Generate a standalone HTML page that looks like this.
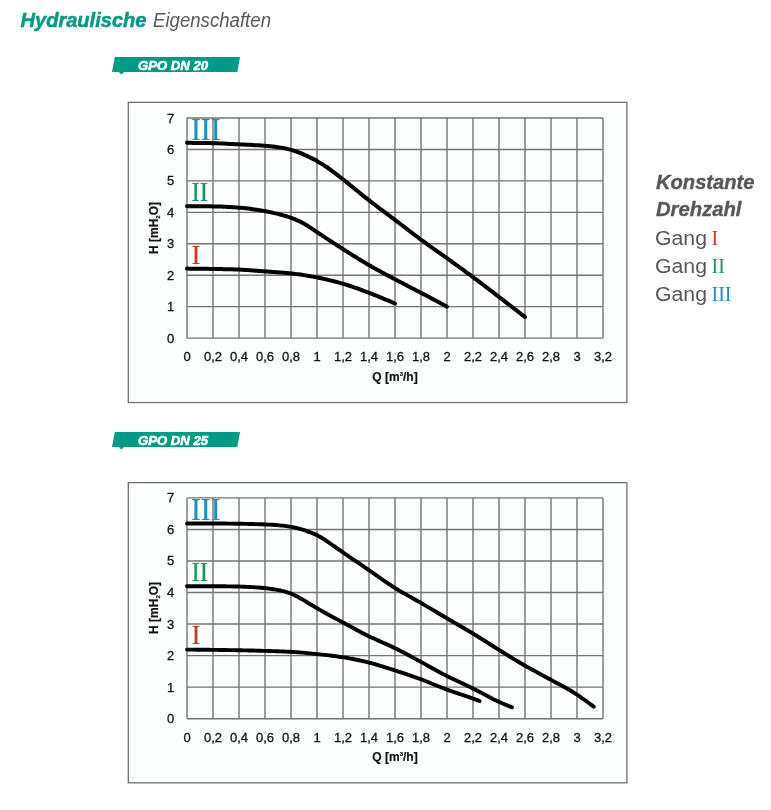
<!DOCTYPE html>
<html><head><meta charset="utf-8">
<style>
html,body{margin:0;padding:0;background:#fff;}
body{width:771px;height:810px;position:relative;overflow:hidden;font-family:"Liberation Sans",sans-serif;}
svg{position:absolute;left:0;top:0;font-family:"Liberation Sans",sans-serif;will-change:transform;}
.lbl{font-family:"Liberation Sans",sans-serif;font-size:13px;fill:#111;stroke:#111;stroke-width:0.3px;}
.ttl{font-family:"Liberation Sans",sans-serif;font-size:12px;font-weight:bold;fill:#111;stroke:#111;stroke-width:0.2px;}
.bdg{font-family:"Liberation Sans",sans-serif;font-size:13px;font-weight:bold;font-style:italic;fill:#fff;}
.h1{position:absolute;left:22px;top:6px;font-size:18px;font-style:italic;white-space:nowrap;line-height:24px;}
.h1 b{color:#009a87;}
.h1 span{color:#5a5a5a;}
.side{position:absolute;left:656px;top:170px;font-size:19px;line-height:27.8px;color:#5a5a5a;white-space:nowrap;}
.side b{font-style:italic;}
.rn{font-family:"Liberation Serif",serif;}
</style></head><body>
<svg width="771" height="810" viewBox="0 0 771 810">
<text x="20.5" y="26.6" font-size="20" font-weight="bold" font-style="italic" fill="#009a87" stroke="#009a87" stroke-width="0.5" textLength="126" lengthAdjust="spacingAndGlyphs">Hydraulische</text>
<text x="153" y="26.6" font-size="20" font-style="italic" fill="#57595c" textLength="118" lengthAdjust="spacingAndGlyphs">Eigenschaften</text>
<text x="656" y="188.5" font-size="20" font-weight="bold" font-style="italic" fill="#575757" stroke="#575757" stroke-width="0.35" textLength="98.5" lengthAdjust="spacingAndGlyphs">Konstante</text>
<text x="656" y="216.4" font-size="20" font-weight="bold" font-style="italic" fill="#575757" stroke="#575757" stroke-width="0.35" textLength="85.5" lengthAdjust="spacingAndGlyphs">Drehzahl</text>
<text x="655" y="244.6" font-size="20" fill="#575757" textLength="52" lengthAdjust="spacingAndGlyphs">Gang</text>
<text x="655" y="272.6" font-size="20" fill="#575757" textLength="52" lengthAdjust="spacingAndGlyphs">Gang</text>
<text x="655" y="300.6" font-size="20" fill="#575757" textLength="52" lengthAdjust="spacingAndGlyphs">Gang</text>
<text x="711.5" y="244.6" font-size="20" font-family="Liberation Serif" fill="#cd3a24">I</text>
<text x="711.5" y="272.6" font-size="20" font-family="Liberation Serif" fill="#16975a">II</text>
<text x="711.5" y="300.6" font-size="20" font-family="Liberation Serif" fill="#1b90c0">III</text>
<path d="M114.8 57.0 L240 57.0 L237.3 72.0 L124.2 72.0 L121.4 74.5 L118.8 72.0 L112 72.0 Z" fill="#009a87"/><text x="138" y="69.7" class="bdg" stroke="#fff" stroke-width="0.6" textLength="70" lengthAdjust="spacingAndGlyphs">GPO DN 20</text>
<path d="M114.8 432.0 L240 432.0 L237.3 447.0 L124.2 447.0 L121.4 449.5 L118.8 447.0 L112 447.0 Z" fill="#009a87"/><text x="138" y="444.7" class="bdg" stroke="#fff" stroke-width="0.6" textLength="70" lengthAdjust="spacingAndGlyphs">GPO DN 25</text>
<rect x="128.3" y="102.35" width="498.6" height="300.2" fill="#fcfdfd" stroke="#6e6e6e" stroke-width="1.3"/>
<path d="M187.00 118.00 V338.10 M213.00 118.00 V338.10 M239.00 118.00 V338.10 M265.00 118.00 V338.10 M291.00 118.00 V338.10 M317.00 118.00 V338.10 M343.00 118.00 V338.10 M369.00 118.00 V338.10 M395.00 118.00 V338.10 M421.00 118.00 V338.10 M447.00 118.00 V338.10 M473.00 118.00 V338.10 M499.00 118.00 V338.10 M525.00 118.00 V338.10 M551.00 118.00 V338.10 M577.00 118.00 V338.10 M603.00 118.00 V338.10 M187.00 118.00 H603.00 M187.00 149.44 H603.00 M187.00 180.89 H603.00 M187.00 212.33 H603.00 M187.00 243.77 H603.00 M187.00 275.21 H603.00 M187.00 306.66 H603.00 M187.00 338.10 H603.00" stroke="#747474" stroke-width="1.4" fill="none"/>
<text x="191" y="140.1" font-family="Liberation Serif" font-size="31" fill="#1b90c0" stroke="#1b90c0" stroke-width="0.2" textLength="29.5" lengthAdjust="spacingAndGlyphs">III</text>
<text x="191.5" y="201.0" font-family="Liberation Serif" font-size="27" fill="#16975a" stroke="#16975a" stroke-width="0.2" textLength="16.6" lengthAdjust="spacingAndGlyphs">II</text>
<text x="191.5" y="264.0" font-family="Liberation Serif" font-size="27" fill="#cd3a24" stroke="#cd3a24" stroke-width="0.2">I</text>
<path d="M187.00 142.84 C187.47 142.84 188.89 142.85 189.84 142.86 C190.79 142.86 191.73 142.87 192.68 142.88 C193.63 142.88 194.57 142.89 195.52 142.90 C196.47 142.91 197.41 142.92 198.36 142.93 C199.31 142.94 200.25 142.95 201.20 142.97 C202.15 142.98 203.10 142.99 204.04 143.01 C204.99 143.02 205.94 143.04 206.88 143.06 C207.83 143.07 208.78 143.09 209.72 143.11 C210.67 143.14 211.62 143.16 212.56 143.18 C213.51 143.21 214.46 143.24 215.40 143.27 C216.35 143.30 217.30 143.33 218.24 143.36 C219.19 143.40 220.14 143.44 221.08 143.48 C222.03 143.52 222.98 143.56 223.92 143.61 C224.87 143.65 225.82 143.70 226.76 143.75 C227.71 143.80 228.66 143.85 229.61 143.90 C230.55 143.95 231.50 144.00 232.45 144.05 C233.39 144.10 234.34 144.15 235.29 144.20 C236.23 144.25 237.18 144.30 238.13 144.34 C239.07 144.39 240.02 144.44 240.97 144.48 C241.91 144.53 242.86 144.57 243.81 144.61 C244.75 144.66 245.70 144.70 246.65 144.74 C247.59 144.78 248.54 144.82 249.49 144.87 C250.43 144.91 251.38 144.95 252.33 145.00 C253.27 145.04 254.22 145.09 255.17 145.14 C256.11 145.18 257.06 145.23 258.01 145.29 C258.96 145.34 259.90 145.40 260.85 145.46 C261.80 145.52 262.74 145.59 263.69 145.66 C264.64 145.73 265.58 145.80 266.53 145.88 C267.48 145.96 268.42 146.05 269.37 146.14 C270.32 146.24 271.26 146.34 272.21 146.44 C273.16 146.55 274.10 146.67 275.05 146.79 C276.00 146.91 276.94 147.04 277.89 147.18 C278.84 147.31 279.78 147.46 280.73 147.62 C281.68 147.77 282.62 147.94 283.57 148.12 C284.52 148.30 285.46 148.48 286.41 148.69 C287.36 148.90 288.31 149.11 289.25 149.35 C290.20 149.59 291.15 149.85 292.09 150.13 C293.04 150.40 293.99 150.70 294.93 151.02 C295.88 151.34 296.83 151.67 297.77 152.03 C298.72 152.38 299.67 152.76 300.61 153.14 C301.56 153.53 302.51 153.93 303.45 154.34 C304.40 154.75 305.35 155.17 306.29 155.61 C307.24 156.04 308.19 156.49 309.13 156.94 C310.08 157.40 311.03 157.87 311.97 158.35 C312.92 158.84 313.87 159.33 314.82 159.84 C315.76 160.36 316.71 160.88 317.66 161.43 C318.60 161.98 319.55 162.54 320.50 163.12 C321.44 163.69 322.39 164.29 323.34 164.90 C324.28 165.51 325.23 166.14 326.18 166.78 C327.12 167.42 328.07 168.08 329.02 168.75 C329.96 169.42 330.91 170.10 331.86 170.79 C332.80 171.49 333.75 172.19 334.70 172.91 C335.64 173.62 336.59 174.35 337.54 175.08 C338.48 175.81 339.43 176.55 340.38 177.29 C341.32 178.03 342.27 178.78 343.22 179.54 C344.17 180.29 345.11 181.05 346.06 181.81 C347.01 182.57 347.95 183.33 348.90 184.10 C349.85 184.87 350.79 185.63 351.74 186.40 C352.69 187.17 353.63 187.95 354.58 188.72 C355.53 189.49 356.47 190.26 357.42 191.03 C358.37 191.80 359.31 192.57 360.26 193.33 C361.21 194.10 362.15 194.86 363.10 195.62 C364.05 196.38 364.99 197.13 365.94 197.88 C366.89 198.63 367.83 199.38 368.78 200.12 C369.73 200.86 370.68 201.59 371.62 202.32 C372.57 203.06 373.52 203.78 374.46 204.50 C375.41 205.23 376.36 205.94 377.30 206.66 C378.25 207.37 379.20 208.08 380.14 208.79 C381.09 209.50 382.04 210.21 382.98 210.92 C383.93 211.63 384.88 212.33 385.82 213.04 C386.77 213.74 387.72 214.45 388.66 215.16 C389.61 215.87 390.56 216.57 391.50 217.29 C392.45 218.00 393.40 218.71 394.34 219.42 C395.29 220.14 396.24 220.85 397.18 221.57 C398.13 222.29 399.08 223.01 400.03 223.73 C400.97 224.45 401.92 225.18 402.87 225.90 C403.81 226.62 404.76 227.35 405.71 228.07 C406.65 228.80 407.60 229.52 408.55 230.24 C409.49 230.97 410.44 231.69 411.39 232.41 C412.33 233.13 413.28 233.84 414.23 234.56 C415.17 235.27 416.12 235.99 417.07 236.69 C418.01 237.40 418.96 238.11 419.91 238.81 C420.85 239.51 421.80 240.21 422.75 240.90 C423.69 241.59 424.64 242.28 425.59 242.97 C426.54 243.66 427.48 244.34 428.43 245.02 C429.38 245.70 430.32 246.38 431.27 247.06 C432.22 247.73 433.16 248.41 434.11 249.08 C435.06 249.75 436.00 250.43 436.95 251.10 C437.90 251.77 438.84 252.44 439.79 253.12 C440.74 253.79 441.68 254.46 442.63 255.14 C443.58 255.81 444.52 256.48 445.47 257.16 C446.42 257.84 447.36 258.51 448.31 259.19 C449.26 259.87 450.20 260.55 451.15 261.23 C452.10 261.91 453.04 262.59 453.99 263.27 C454.94 263.95 455.89 264.64 456.83 265.32 C457.78 266.00 458.73 266.69 459.67 267.37 C460.62 268.06 461.57 268.75 462.51 269.43 C463.46 270.12 464.41 270.81 465.35 271.51 C466.30 272.20 467.25 272.89 468.19 273.59 C469.14 274.28 470.09 274.98 471.03 275.68 C471.98 276.38 472.93 277.09 473.87 277.79 C474.82 278.50 475.77 279.21 476.71 279.92 C477.66 280.63 478.61 281.34 479.55 282.05 C480.50 282.77 481.45 283.48 482.39 284.20 C483.34 284.92 484.29 285.64 485.24 286.36 C486.18 287.08 487.13 287.81 488.08 288.53 C489.02 289.25 489.97 289.98 490.92 290.70 C491.86 291.43 492.81 292.16 493.76 292.88 C494.70 293.61 495.65 294.34 496.60 295.07 C497.54 295.79 498.49 296.52 499.44 297.25 C500.38 297.98 501.33 298.71 502.28 299.44 C503.22 300.17 504.17 300.89 505.12 301.62 C506.06 302.36 507.01 303.09 507.96 303.82 C508.90 304.55 509.85 305.28 510.80 306.01 C511.75 306.74 512.69 307.48 513.64 308.21 C514.59 308.94 515.53 309.68 516.48 310.41 C517.43 311.15 518.37 311.88 519.32 312.62 C520.27 313.35 521.21 314.09 522.16 314.82 C523.11 315.56 524.53 316.67 525.00 317.03" stroke="#000" stroke-width="4.0" fill="none" stroke-linecap="round" stroke-linejoin="round"/>
<path d="M187.00 206.35 C187.36 206.35 188.46 206.35 189.18 206.35 C189.91 206.35 190.64 206.35 191.37 206.35 C192.10 206.35 192.83 206.35 193.55 206.35 C194.28 206.35 195.01 206.35 195.74 206.35 C196.47 206.35 197.20 206.35 197.92 206.35 C198.65 206.35 199.38 206.35 200.11 206.35 C200.84 206.35 201.57 206.35 202.29 206.35 C203.02 206.35 203.75 206.36 204.48 206.36 C205.21 206.36 205.94 206.36 206.66 206.36 C207.39 206.36 208.12 206.36 208.85 206.36 C209.58 206.36 210.31 206.37 211.03 206.37 C211.76 206.38 212.49 206.38 213.22 206.39 C213.95 206.40 214.68 206.41 215.40 206.42 C216.13 206.43 216.86 206.45 217.59 206.47 C218.32 206.48 219.04 206.50 219.77 206.53 C220.50 206.55 221.23 206.58 221.96 206.60 C222.69 206.63 223.41 206.66 224.14 206.70 C224.87 206.73 225.60 206.77 226.33 206.81 C227.06 206.84 227.78 206.89 228.51 206.93 C229.24 206.97 229.97 207.01 230.70 207.06 C231.43 207.11 232.15 207.15 232.88 207.20 C233.61 207.25 234.34 207.30 235.07 207.35 C235.80 207.41 236.52 207.46 237.25 207.52 C237.98 207.57 238.71 207.63 239.44 207.69 C240.17 207.75 240.89 207.82 241.62 207.88 C242.35 207.95 243.08 208.02 243.81 208.09 C244.54 208.17 245.26 208.25 245.99 208.33 C246.72 208.41 247.45 208.49 248.18 208.58 C248.90 208.67 249.63 208.76 250.36 208.85 C251.09 208.95 251.82 209.05 252.55 209.15 C253.27 209.25 254.00 209.35 254.73 209.46 C255.46 209.56 256.19 209.67 256.92 209.79 C257.64 209.90 258.37 210.01 259.10 210.13 C259.83 210.25 260.56 210.36 261.29 210.49 C262.01 210.61 262.74 210.73 263.47 210.86 C264.20 210.99 264.93 211.12 265.66 211.26 C266.38 211.39 267.11 211.53 267.84 211.68 C268.57 211.82 269.30 211.97 270.03 212.12 C270.75 212.27 271.48 212.43 272.21 212.59 C272.94 212.75 273.67 212.92 274.39 213.09 C275.12 213.26 275.85 213.43 276.58 213.61 C277.31 213.79 278.04 213.97 278.76 214.16 C279.49 214.34 280.22 214.54 280.95 214.73 C281.68 214.93 282.41 215.13 283.13 215.33 C283.86 215.54 284.59 215.75 285.32 215.97 C286.05 216.19 286.78 216.42 287.50 216.65 C288.23 216.88 288.96 217.12 289.69 217.37 C290.42 217.62 291.15 217.88 291.87 218.14 C292.60 218.41 293.33 218.69 294.06 218.97 C294.79 219.26 295.52 219.55 296.24 219.86 C296.97 220.17 297.70 220.49 298.43 220.82 C299.16 221.16 299.89 221.50 300.61 221.86 C301.34 222.22 302.07 222.60 302.80 222.99 C303.53 223.38 304.25 223.79 304.98 224.21 C305.71 224.63 306.44 225.06 307.17 225.51 C307.90 225.96 308.62 226.43 309.35 226.90 C310.08 227.37 310.81 227.86 311.54 228.34 C312.27 228.83 312.99 229.33 313.72 229.82 C314.45 230.32 315.18 230.82 315.91 231.32 C316.64 231.81 317.36 232.31 318.09 232.80 C318.82 233.30 319.55 233.79 320.28 234.28 C321.01 234.77 321.73 235.26 322.46 235.74 C323.19 236.23 323.92 236.71 324.65 237.19 C325.38 237.68 326.10 238.16 326.83 238.64 C327.56 239.12 328.29 239.59 329.02 240.07 C329.75 240.55 330.47 241.02 331.20 241.50 C331.93 241.97 332.66 242.45 333.39 242.92 C334.11 243.39 334.84 243.87 335.57 244.34 C336.30 244.81 337.03 245.28 337.76 245.75 C338.48 246.21 339.21 246.68 339.94 247.15 C340.67 247.62 341.40 248.08 342.13 248.55 C342.85 249.01 343.58 249.47 344.31 249.94 C345.04 250.40 345.77 250.86 346.50 251.32 C347.22 251.79 347.95 252.25 348.68 252.71 C349.41 253.17 350.14 253.62 350.87 254.08 C351.59 254.54 352.32 255.00 353.05 255.45 C353.78 255.91 354.51 256.36 355.24 256.81 C355.96 257.27 356.69 257.72 357.42 258.17 C358.15 258.61 358.88 259.06 359.61 259.51 C360.33 259.95 361.06 260.39 361.79 260.83 C362.52 261.27 363.25 261.71 363.97 262.15 C364.70 262.58 365.43 263.01 366.16 263.44 C366.89 263.87 367.62 264.30 368.34 264.72 C369.07 265.14 369.80 265.56 370.53 265.98 C371.26 266.40 371.99 266.81 372.71 267.23 C373.44 267.64 374.17 268.05 374.90 268.45 C375.63 268.86 376.36 269.26 377.08 269.67 C377.81 270.07 378.54 270.47 379.27 270.87 C380.00 271.27 380.73 271.66 381.45 272.06 C382.18 272.45 382.91 272.85 383.64 273.24 C384.37 273.63 385.10 274.02 385.82 274.41 C386.55 274.80 387.28 275.19 388.01 275.58 C388.74 275.97 389.46 276.36 390.19 276.74 C390.92 277.13 391.65 277.52 392.38 277.90 C393.11 278.29 393.83 278.68 394.56 279.06 C395.29 279.44 396.02 279.83 396.75 280.21 C397.48 280.60 398.20 280.98 398.93 281.36 C399.66 281.74 400.39 282.12 401.12 282.50 C401.85 282.88 402.57 283.26 403.30 283.64 C404.03 284.02 404.76 284.40 405.49 284.78 C406.22 285.15 406.94 285.53 407.67 285.91 C408.40 286.29 409.13 286.66 409.86 287.04 C410.59 287.42 411.31 287.79 412.04 288.17 C412.77 288.55 413.50 288.92 414.23 289.30 C414.96 289.68 415.68 290.06 416.41 290.44 C417.14 290.82 417.87 291.20 418.60 291.58 C419.32 291.96 420.05 292.34 420.78 292.72 C421.51 293.10 422.24 293.48 422.97 293.87 C423.69 294.25 424.42 294.63 425.15 295.02 C425.88 295.40 426.61 295.79 427.34 296.17 C428.06 296.56 428.79 296.94 429.52 297.33 C430.25 297.71 430.98 298.10 431.71 298.49 C432.43 298.87 433.16 299.26 433.89 299.65 C434.62 300.04 435.35 300.42 436.08 300.81 C436.80 301.20 437.53 301.59 438.26 301.98 C438.99 302.37 439.72 302.76 440.45 303.15 C441.17 303.53 441.90 303.92 442.63 304.31 C443.36 304.70 444.09 305.10 444.82 305.49 C445.54 305.88 446.64 306.46 447.00 306.66" stroke="#000" stroke-width="4.0" fill="none" stroke-linecap="round" stroke-linejoin="round"/>
<path d="M187.00 268.61 C187.29 268.61 188.17 268.62 188.75 268.63 C189.33 268.63 189.91 268.64 190.50 268.64 C191.08 268.65 191.66 268.65 192.24 268.66 C192.83 268.66 193.41 268.67 193.99 268.67 C194.57 268.68 195.16 268.69 195.74 268.69 C196.32 268.70 196.90 268.70 197.49 268.71 C198.07 268.72 198.65 268.72 199.24 268.73 C199.82 268.74 200.40 268.75 200.98 268.75 C201.57 268.76 202.15 268.77 202.73 268.78 C203.31 268.78 203.90 268.79 204.48 268.80 C205.06 268.81 205.64 268.82 206.23 268.82 C206.81 268.83 207.39 268.84 207.97 268.85 C208.56 268.86 209.14 268.87 209.72 268.88 C210.31 268.89 210.89 268.90 211.47 268.90 C212.05 268.91 212.64 268.92 213.22 268.93 C213.80 268.94 214.38 268.95 214.97 268.96 C215.55 268.97 216.13 268.98 216.71 268.99 C217.30 269.00 217.88 269.02 218.46 269.03 C219.04 269.04 219.63 269.05 220.21 269.06 C220.79 269.07 221.38 269.08 221.96 269.10 C222.54 269.11 223.12 269.12 223.71 269.13 C224.29 269.15 224.87 269.16 225.45 269.17 C226.04 269.19 226.62 269.20 227.20 269.21 C227.78 269.23 228.37 269.24 228.95 269.26 C229.53 269.27 230.11 269.29 230.70 269.31 C231.28 269.32 231.86 269.34 232.45 269.36 C233.03 269.37 233.61 269.39 234.19 269.41 C234.78 269.43 235.36 269.45 235.94 269.47 C236.52 269.49 237.11 269.52 237.69 269.54 C238.27 269.56 238.85 269.59 239.44 269.61 C240.02 269.64 240.60 269.67 241.18 269.69 C241.77 269.72 242.35 269.75 242.93 269.79 C243.52 269.82 244.10 269.85 244.68 269.89 C245.26 269.92 245.85 269.96 246.43 270.00 C247.01 270.03 247.59 270.07 248.18 270.12 C248.76 270.16 249.34 270.20 249.92 270.24 C250.51 270.28 251.09 270.33 251.67 270.37 C252.25 270.42 252.84 270.46 253.42 270.51 C254.00 270.56 254.59 270.60 255.17 270.65 C255.75 270.70 256.33 270.74 256.92 270.79 C257.50 270.84 258.08 270.88 258.66 270.93 C259.25 270.98 259.83 271.02 260.41 271.07 C260.99 271.11 261.58 271.16 262.16 271.21 C262.74 271.25 263.32 271.29 263.91 271.34 C264.49 271.38 265.07 271.42 265.66 271.47 C266.24 271.51 266.82 271.55 267.40 271.59 C267.99 271.63 268.57 271.67 269.15 271.71 C269.73 271.75 270.32 271.79 270.90 271.83 C271.48 271.87 272.06 271.91 272.65 271.95 C273.23 271.99 273.81 272.03 274.39 272.07 C274.98 272.11 275.56 272.15 276.14 272.18 C276.73 272.22 277.31 272.26 277.89 272.30 C278.47 272.34 279.06 272.38 279.64 272.43 C280.22 272.47 280.80 272.51 281.39 272.55 C281.97 272.60 282.55 272.64 283.13 272.69 C283.72 272.73 284.30 272.78 284.88 272.82 C285.46 272.87 286.05 272.92 286.63 272.97 C287.21 273.02 287.80 273.08 288.38 273.13 C288.96 273.19 289.54 273.24 290.13 273.30 C290.71 273.36 291.29 273.42 291.87 273.48 C292.46 273.54 293.04 273.61 293.62 273.68 C294.20 273.74 294.79 273.81 295.37 273.89 C295.95 273.96 296.54 274.03 297.12 274.11 C297.70 274.19 298.28 274.27 298.87 274.35 C299.45 274.43 300.03 274.51 300.61 274.60 C301.20 274.69 301.78 274.77 302.36 274.86 C302.94 274.95 303.53 275.05 304.11 275.14 C304.69 275.23 305.27 275.33 305.86 275.43 C306.44 275.52 307.02 275.62 307.61 275.72 C308.19 275.82 308.77 275.92 309.35 276.03 C309.94 276.13 310.52 276.23 311.10 276.34 C311.68 276.44 312.27 276.55 312.85 276.66 C313.43 276.77 314.01 276.88 314.60 276.99 C315.18 277.10 315.76 277.21 316.34 277.32 C316.93 277.44 317.51 277.55 318.09 277.67 C318.68 277.79 319.26 277.90 319.84 278.02 C320.42 278.14 321.01 278.26 321.59 278.39 C322.17 278.51 322.75 278.64 323.34 278.76 C323.92 278.89 324.50 279.02 325.08 279.15 C325.67 279.28 326.25 279.41 326.83 279.55 C327.41 279.68 328.00 279.82 328.58 279.96 C329.16 280.09 329.75 280.24 330.33 280.38 C330.91 280.52 331.49 280.66 332.08 280.81 C332.66 280.96 333.24 281.10 333.82 281.25 C334.41 281.40 334.99 281.55 335.57 281.71 C336.15 281.86 336.74 282.02 337.32 282.17 C337.90 282.33 338.48 282.49 339.07 282.65 C339.65 282.81 340.23 282.97 340.82 283.14 C341.40 283.30 341.98 283.47 342.56 283.64 C343.15 283.81 343.73 283.98 344.31 284.16 C344.89 284.33 345.48 284.51 346.06 284.69 C346.64 284.87 347.22 285.05 347.81 285.24 C348.39 285.43 348.97 285.61 349.55 285.80 C350.14 286.00 350.72 286.19 351.30 286.38 C351.89 286.58 352.47 286.78 353.05 286.98 C353.63 287.18 354.22 287.38 354.80 287.59 C355.38 287.79 355.96 288.00 356.55 288.21 C357.13 288.41 357.71 288.62 358.29 288.83 C358.88 289.05 359.46 289.26 360.04 289.47 C360.62 289.69 361.21 289.90 361.79 290.12 C362.37 290.34 362.96 290.55 363.54 290.77 C364.12 290.99 364.70 291.21 365.29 291.43 C365.87 291.65 366.45 291.87 367.03 292.09 C367.62 292.31 368.20 292.53 368.78 292.76 C369.36 292.98 369.95 293.20 370.53 293.43 C371.11 293.65 371.69 293.88 372.28 294.11 C372.86 294.33 373.44 294.56 374.03 294.79 C374.61 295.02 375.19 295.25 375.77 295.48 C376.36 295.71 376.94 295.94 377.52 296.18 C378.10 296.41 378.69 296.64 379.27 296.88 C379.85 297.12 380.43 297.35 381.02 297.59 C381.60 297.83 382.18 298.07 382.76 298.31 C383.35 298.55 383.93 298.79 384.51 299.04 C385.10 299.28 385.68 299.52 386.26 299.77 C386.84 300.01 387.43 300.26 388.01 300.51 C388.59 300.76 389.17 301.00 389.76 301.25 C390.34 301.50 390.92 301.75 391.50 302.00 C392.09 302.25 392.67 302.50 393.25 302.76 C393.83 303.01 394.71 303.39 395.00 303.51" stroke="#000" stroke-width="4.0" fill="none" stroke-linecap="round" stroke-linejoin="round"/>
<text x="174.2" y="342.60" text-anchor="end" class="lbl">0</text>
<text x="174.2" y="311.16" text-anchor="end" class="lbl">1</text>
<text x="174.2" y="279.71" text-anchor="end" class="lbl">2</text>
<text x="174.2" y="248.27" text-anchor="end" class="lbl">3</text>
<text x="174.2" y="216.83" text-anchor="end" class="lbl">4</text>
<text x="174.2" y="185.39" text-anchor="end" class="lbl">5</text>
<text x="174.2" y="153.94" text-anchor="end" class="lbl">6</text>
<text x="174.2" y="122.50" text-anchor="end" class="lbl">7</text>
<text x="187.00" y="361.4" text-anchor="middle" class="lbl">0</text>
<text x="213.00" y="361.4" text-anchor="middle" class="lbl">0,2</text>
<text x="239.00" y="361.4" text-anchor="middle" class="lbl">0,4</text>
<text x="265.00" y="361.4" text-anchor="middle" class="lbl">0,6</text>
<text x="291.00" y="361.4" text-anchor="middle" class="lbl">0,8</text>
<text x="317.00" y="361.4" text-anchor="middle" class="lbl">1</text>
<text x="343.00" y="361.4" text-anchor="middle" class="lbl">1,2</text>
<text x="369.00" y="361.4" text-anchor="middle" class="lbl">1,4</text>
<text x="395.00" y="361.4" text-anchor="middle" class="lbl">1,6</text>
<text x="421.00" y="361.4" text-anchor="middle" class="lbl">1,8</text>
<text x="447.00" y="361.4" text-anchor="middle" class="lbl">2</text>
<text x="473.00" y="361.4" text-anchor="middle" class="lbl">2,2</text>
<text x="499.00" y="361.4" text-anchor="middle" class="lbl">2,4</text>
<text x="525.00" y="361.4" text-anchor="middle" class="lbl">2,6</text>
<text x="551.00" y="361.4" text-anchor="middle" class="lbl">2,8</text>
<text x="577.00" y="361.4" text-anchor="middle" class="lbl">3</text>
<text x="603.00" y="361.4" text-anchor="middle" class="lbl">3,2</text>
<text x="395" y="380.6" text-anchor="middle" class="ttl">Q [m<tspan font-size="6" dy="-5">3</tspan><tspan dy="5">/h]</tspan></text>
<g transform="translate(157.6 228.0) rotate(-90)"><text x="0" y="0" text-anchor="middle" class="ttl">H [mH<tspan font-size="6" dy="2.5">2</tspan><tspan dy="-2.5">O]</tspan></text></g>
<rect x="128.3" y="482.60" width="498.6" height="300.2" fill="#fcfdfd" stroke="#6e6e6e" stroke-width="1.3"/>
<path d="M187.00 497.90 V718.70 M213.00 497.90 V718.70 M239.00 497.90 V718.70 M265.00 497.90 V718.70 M291.00 497.90 V718.70 M317.00 497.90 V718.70 M343.00 497.90 V718.70 M369.00 497.90 V718.70 M395.00 497.90 V718.70 M421.00 497.90 V718.70 M447.00 497.90 V718.70 M473.00 497.90 V718.70 M499.00 497.90 V718.70 M525.00 497.90 V718.70 M551.00 497.90 V718.70 M577.00 497.90 V718.70 M603.00 497.90 V718.70 M187.00 497.90 H603.00 M187.00 529.44 H603.00 M187.00 560.99 H603.00 M187.00 592.53 H603.00 M187.00 624.07 H603.00 M187.00 655.61 H603.00 M187.00 687.16 H603.00 M187.00 718.70 H603.00" stroke="#747474" stroke-width="1.4" fill="none"/>
<text x="191" y="520.0" font-family="Liberation Serif" font-size="31" fill="#1b90c0" stroke="#1b90c0" stroke-width="0.2" textLength="29.5" lengthAdjust="spacingAndGlyphs">III</text>
<text x="191.5" y="580.9" font-family="Liberation Serif" font-size="27" fill="#16975a" stroke="#16975a" stroke-width="0.2" textLength="16.6" lengthAdjust="spacingAndGlyphs">II</text>
<text x="191.5" y="643.9" font-family="Liberation Serif" font-size="27" fill="#cd3a24" stroke="#cd3a24" stroke-width="0.2">I</text>
<path d="M187.00 523.45 C187.57 523.45 189.28 523.45 190.42 523.45 C191.56 523.45 192.70 523.45 193.84 523.45 C194.98 523.45 196.12 523.45 197.26 523.45 C198.40 523.45 199.54 523.45 200.68 523.45 C201.82 523.45 202.96 523.45 204.10 523.45 C205.24 523.45 206.38 523.45 207.52 523.45 C208.66 523.45 209.80 523.45 210.94 523.45 C212.08 523.46 213.21 523.46 214.35 523.46 C215.49 523.47 216.63 523.47 217.77 523.48 C218.91 523.49 220.05 523.50 221.19 523.51 C222.33 523.52 223.47 523.53 224.61 523.55 C225.75 523.56 226.89 523.58 228.03 523.59 C229.17 523.61 230.31 523.62 231.45 523.64 C232.59 523.66 233.73 523.68 234.87 523.70 C236.01 523.72 237.15 523.74 238.29 523.75 C239.43 523.77 240.57 523.79 241.71 523.81 C242.85 523.83 243.99 523.85 245.13 523.88 C246.27 523.90 247.41 523.92 248.55 523.94 C249.69 523.97 250.83 523.99 251.97 524.02 C253.11 524.05 254.25 524.08 255.39 524.11 C256.53 524.14 257.67 524.17 258.81 524.20 C259.95 524.24 261.09 524.28 262.23 524.32 C263.36 524.36 264.50 524.40 265.64 524.45 C266.78 524.50 267.92 524.56 269.06 524.62 C270.20 524.68 271.34 524.74 272.48 524.82 C273.62 524.89 274.76 524.97 275.90 525.06 C277.04 525.14 278.18 525.24 279.32 525.34 C280.46 525.44 281.60 525.55 282.74 525.68 C283.88 525.80 285.02 525.93 286.16 526.08 C287.30 526.23 288.44 526.38 289.58 526.57 C290.72 526.76 291.86 526.97 293.00 527.21 C294.14 527.45 295.28 527.71 296.42 528.00 C297.56 528.29 298.70 528.61 299.84 528.93 C300.98 529.26 302.12 529.60 303.26 529.96 C304.40 530.31 305.54 530.67 306.68 531.06 C307.82 531.44 308.96 531.82 310.10 532.25 C311.24 532.67 312.38 533.11 313.52 533.59 C314.65 534.08 315.79 534.59 316.93 535.16 C318.07 535.73 319.21 536.35 320.35 537.01 C321.49 537.67 322.63 538.38 323.77 539.11 C324.91 539.84 326.05 540.61 327.19 541.38 C328.33 542.16 329.47 542.95 330.61 543.75 C331.75 544.54 332.89 545.34 334.03 546.14 C335.17 546.94 336.31 547.75 337.45 548.55 C338.59 549.35 339.73 550.15 340.87 550.94 C342.01 551.74 343.15 552.54 344.29 553.32 C345.43 554.11 346.57 554.90 347.71 555.68 C348.85 556.46 349.99 557.24 351.13 558.02 C352.27 558.79 353.41 559.56 354.55 560.34 C355.69 561.11 356.83 561.88 357.97 562.65 C359.11 563.42 360.25 564.19 361.39 564.97 C362.53 565.74 363.67 566.51 364.81 567.29 C365.94 568.07 367.08 568.85 368.22 569.64 C369.36 570.42 370.50 571.21 371.64 572.01 C372.78 572.80 373.92 573.60 375.06 574.40 C376.20 575.20 377.34 576.01 378.48 576.81 C379.62 577.61 380.76 578.42 381.90 579.22 C383.04 580.02 384.18 580.81 385.32 581.60 C386.46 582.38 387.60 583.16 388.74 583.93 C389.88 584.69 391.02 585.45 392.16 586.19 C393.30 586.93 394.44 587.65 395.58 588.36 C396.72 589.07 397.86 589.77 399.00 590.45 C400.14 591.14 401.28 591.80 402.42 592.47 C403.56 593.13 404.70 593.78 405.84 594.42 C406.98 595.07 408.12 595.71 409.26 596.35 C410.40 596.99 411.54 597.62 412.68 598.26 C413.82 598.90 414.96 599.54 416.09 600.18 C417.23 600.82 418.37 601.47 419.51 602.13 C420.65 602.78 421.79 603.44 422.93 604.10 C424.07 604.76 425.21 605.43 426.35 606.11 C427.49 606.78 428.63 607.45 429.77 608.13 C430.91 608.81 432.05 609.49 433.19 610.17 C434.33 610.85 435.47 611.53 436.61 612.21 C437.75 612.89 438.89 613.57 440.03 614.25 C441.17 614.92 442.31 615.60 443.45 616.28 C444.59 616.95 445.73 617.62 446.87 618.29 C448.01 618.96 449.15 619.63 450.29 620.29 C451.43 620.96 452.57 621.62 453.71 622.28 C454.85 622.94 455.99 623.60 457.13 624.26 C458.27 624.92 459.41 625.57 460.55 626.23 C461.69 626.89 462.83 627.55 463.97 628.22 C465.11 628.88 466.25 629.55 467.38 630.22 C468.52 630.90 469.66 631.57 470.80 632.26 C471.94 632.94 473.08 633.63 474.22 634.33 C475.36 635.02 476.50 635.73 477.64 636.43 C478.78 637.14 479.92 637.86 481.06 638.57 C482.20 639.29 483.34 640.01 484.48 640.74 C485.62 641.46 486.76 642.18 487.90 642.91 C489.04 643.63 490.18 644.36 491.32 645.08 C492.46 645.81 493.60 646.53 494.74 647.25 C495.88 647.96 497.02 648.68 498.16 649.39 C499.30 650.11 500.44 650.82 501.58 651.52 C502.72 652.23 503.86 652.94 505.00 653.64 C506.14 654.35 507.28 655.05 508.42 655.75 C509.56 656.45 510.70 657.15 511.84 657.84 C512.98 658.54 514.12 659.23 515.26 659.92 C516.40 660.60 517.54 661.29 518.67 661.96 C519.81 662.64 520.95 663.31 522.09 663.98 C523.23 664.64 524.37 665.30 525.51 665.95 C526.65 666.60 527.79 667.25 528.93 667.89 C530.07 668.53 531.21 669.16 532.35 669.79 C533.49 670.42 534.63 671.04 535.77 671.66 C536.91 672.28 538.05 672.89 539.19 673.51 C540.33 674.13 541.47 674.74 542.61 675.36 C543.75 675.97 544.89 676.59 546.03 677.20 C547.17 677.82 548.31 678.44 549.45 679.05 C550.59 679.67 551.73 680.29 552.87 680.90 C554.01 681.52 555.15 682.13 556.29 682.74 C557.43 683.36 558.57 683.97 559.71 684.58 C560.85 685.19 561.99 685.81 563.13 686.43 C564.27 687.05 565.41 687.67 566.55 688.31 C567.69 688.95 568.82 689.60 569.96 690.26 C571.10 690.93 572.24 691.61 573.38 692.31 C574.52 693.02 575.66 693.74 576.80 694.49 C577.94 695.24 579.08 696.01 580.22 696.80 C581.36 697.59 582.50 698.41 583.64 699.23 C584.78 700.04 585.92 700.88 587.06 701.71 C588.20 702.54 589.34 703.38 590.48 704.21 C591.62 705.05 593.33 706.29 593.90 706.71" stroke="#000" stroke-width="3.9" fill="none" stroke-linecap="round" stroke-linejoin="round"/>
<path d="M187.00 586.22 C187.46 586.22 188.82 586.22 189.73 586.22 C190.64 586.22 191.55 586.22 192.46 586.22 C193.37 586.22 194.28 586.22 195.19 586.22 C196.10 586.22 197.01 586.22 197.92 586.22 C198.83 586.22 199.75 586.22 200.66 586.22 C201.57 586.22 202.48 586.22 203.39 586.22 C204.30 586.22 205.21 586.22 206.12 586.22 C207.03 586.22 207.94 586.22 208.85 586.22 C209.76 586.22 210.67 586.22 211.58 586.22 C212.49 586.23 213.40 586.23 214.31 586.23 C215.22 586.23 216.13 586.24 217.04 586.24 C217.95 586.25 218.86 586.25 219.77 586.26 C220.68 586.27 221.59 586.27 222.50 586.28 C223.41 586.29 224.32 586.30 225.24 586.31 C226.15 586.32 227.06 586.34 227.97 586.35 C228.88 586.36 229.79 586.38 230.70 586.39 C231.61 586.41 232.52 586.42 233.43 586.44 C234.34 586.46 235.25 586.47 236.16 586.49 C237.07 586.51 237.98 586.53 238.89 586.56 C239.80 586.58 240.71 586.61 241.62 586.64 C242.53 586.67 243.44 586.70 244.35 586.74 C245.26 586.77 246.17 586.81 247.08 586.86 C247.99 586.90 248.90 586.95 249.82 587.00 C250.73 587.05 251.64 587.10 252.55 587.16 C253.46 587.22 254.37 587.28 255.28 587.34 C256.19 587.41 257.10 587.48 258.01 587.55 C258.92 587.62 259.83 587.69 260.74 587.77 C261.65 587.85 262.56 587.93 263.47 588.02 C264.38 588.11 265.29 588.20 266.20 588.30 C267.11 588.40 268.02 588.51 268.93 588.62 C269.84 588.74 270.75 588.86 271.66 588.99 C272.57 589.12 273.48 589.26 274.39 589.41 C275.31 589.56 276.22 589.71 277.13 589.88 C278.04 590.05 278.95 590.23 279.86 590.42 C280.77 590.61 281.68 590.82 282.59 591.03 C283.50 591.25 284.41 591.48 285.32 591.73 C286.23 591.98 287.14 592.25 288.05 592.54 C288.96 592.84 289.87 593.15 290.78 593.51 C291.69 593.86 292.60 594.24 293.51 594.66 C294.42 595.07 295.33 595.52 296.24 595.99 C297.15 596.45 298.06 596.96 298.97 597.47 C299.89 597.98 300.80 598.51 301.71 599.04 C302.62 599.58 303.53 600.12 304.44 600.67 C305.35 601.22 306.26 601.77 307.17 602.32 C308.08 602.88 308.99 603.43 309.90 603.98 C310.81 604.53 311.72 605.09 312.63 605.63 C313.54 606.18 314.45 606.72 315.36 607.26 C316.27 607.80 317.18 608.33 318.09 608.86 C319.00 609.39 319.91 609.91 320.82 610.42 C321.73 610.94 322.64 611.45 323.55 611.96 C324.46 612.47 325.38 612.97 326.29 613.47 C327.20 613.97 328.11 614.47 329.02 614.97 C329.93 615.46 330.84 615.95 331.75 616.45 C332.66 616.94 333.57 617.43 334.48 617.92 C335.39 618.41 336.30 618.90 337.21 619.39 C338.12 619.88 339.03 620.37 339.94 620.86 C340.85 621.35 341.76 621.84 342.67 622.33 C343.58 622.83 344.49 623.32 345.40 623.81 C346.31 624.31 347.22 624.80 348.13 625.30 C349.04 625.80 349.96 626.29 350.87 626.79 C351.78 627.29 352.69 627.78 353.60 628.28 C354.51 628.77 355.42 629.26 356.33 629.75 C357.24 630.24 358.15 630.73 359.06 631.21 C359.97 631.70 360.88 632.18 361.79 632.65 C362.70 633.13 363.61 633.60 364.52 634.06 C365.43 634.52 366.34 634.98 367.25 635.43 C368.16 635.88 369.07 636.33 369.98 636.76 C370.89 637.20 371.80 637.63 372.71 638.05 C373.62 638.47 374.54 638.89 375.45 639.30 C376.36 639.72 377.27 640.12 378.18 640.53 C379.09 640.93 380.00 641.33 380.91 641.73 C381.82 642.13 382.73 642.53 383.64 642.93 C384.55 643.33 385.46 643.73 386.37 644.13 C387.28 644.54 388.19 644.95 389.10 645.36 C390.01 645.78 390.92 646.19 391.83 646.62 C392.74 647.05 393.65 647.48 394.56 647.92 C395.47 648.36 396.38 648.80 397.29 649.26 C398.20 649.71 399.11 650.17 400.03 650.64 C400.94 651.10 401.85 651.57 402.76 652.05 C403.67 652.53 404.58 653.01 405.49 653.49 C406.40 653.98 407.31 654.47 408.22 654.96 C409.13 655.45 410.04 655.94 410.95 656.44 C411.86 656.93 412.77 657.43 413.68 657.93 C414.59 658.42 415.50 658.92 416.41 659.42 C417.32 659.92 418.23 660.41 419.14 660.91 C420.05 661.41 420.96 661.91 421.87 662.41 C422.78 662.91 423.69 663.41 424.61 663.91 C425.52 664.41 426.43 664.92 427.34 665.42 C428.25 665.92 429.16 666.43 430.07 666.93 C430.98 667.44 431.89 667.94 432.80 668.45 C433.71 668.95 434.62 669.45 435.53 669.95 C436.44 670.45 437.35 670.95 438.26 671.44 C439.17 671.94 440.08 672.43 440.99 672.92 C441.90 673.40 442.81 673.88 443.72 674.36 C444.63 674.83 445.54 675.30 446.45 675.77 C447.36 676.23 448.27 676.69 449.18 677.14 C450.10 677.59 451.01 678.04 451.92 678.48 C452.83 678.92 453.74 679.35 454.65 679.79 C455.56 680.22 456.47 680.65 457.38 681.07 C458.29 681.50 459.20 681.92 460.11 682.35 C461.02 682.77 461.93 683.20 462.84 683.62 C463.75 684.05 464.66 684.47 465.57 684.90 C466.48 685.33 467.39 685.76 468.30 686.20 C469.21 686.63 470.12 687.08 471.03 687.52 C471.94 687.97 472.85 688.42 473.76 688.88 C474.68 689.34 475.59 689.80 476.50 690.27 C477.41 690.74 478.32 691.22 479.23 691.70 C480.14 692.18 481.05 692.67 481.96 693.15 C482.87 693.64 483.78 694.13 484.69 694.61 C485.60 695.10 486.51 695.59 487.42 696.07 C488.33 696.55 489.24 697.03 490.15 697.51 C491.06 697.98 491.97 698.45 492.88 698.91 C493.79 699.37 494.70 699.82 495.61 700.26 C496.52 700.71 497.43 701.14 498.34 701.57 C499.25 701.99 500.17 702.40 501.08 702.81 C501.99 703.22 502.90 703.61 503.81 704.00 C504.72 704.39 505.63 704.77 506.54 705.15 C507.45 705.52 508.36 705.89 509.27 706.26 C510.18 706.62 511.54 707.16 512.00 707.34" stroke="#000" stroke-width="3.9" fill="none" stroke-linecap="round" stroke-linejoin="round"/>
<path d="M187.00 649.62 C187.41 649.62 188.64 649.63 189.46 649.64 C190.28 649.64 191.10 649.65 191.92 649.65 C192.74 649.66 193.55 649.66 194.37 649.67 C195.19 649.67 196.01 649.68 196.83 649.69 C197.65 649.69 198.47 649.70 199.29 649.71 C200.11 649.71 200.93 649.72 201.75 649.73 C202.57 649.74 203.39 649.75 204.21 649.75 C205.03 649.76 205.84 649.77 206.66 649.78 C207.48 649.79 208.30 649.80 209.12 649.81 C209.94 649.82 210.76 649.83 211.58 649.84 C212.40 649.85 213.22 649.86 214.04 649.87 C214.86 649.88 215.68 649.89 216.50 649.90 C217.32 649.91 218.13 649.93 218.95 649.94 C219.77 649.95 220.59 649.96 221.41 649.97 C222.23 649.99 223.05 650.00 223.87 650.01 C224.69 650.02 225.51 650.03 226.33 650.05 C227.15 650.06 227.97 650.07 228.79 650.09 C229.61 650.10 230.42 650.11 231.24 650.13 C232.06 650.14 232.88 650.15 233.70 650.17 C234.52 650.18 235.34 650.19 236.16 650.21 C236.98 650.22 237.80 650.24 238.62 650.25 C239.44 650.27 240.26 650.28 241.08 650.30 C241.89 650.31 242.71 650.33 243.53 650.34 C244.35 650.36 245.17 650.38 245.99 650.39 C246.81 650.41 247.63 650.43 248.45 650.45 C249.27 650.47 250.09 650.49 250.91 650.51 C251.73 650.53 252.55 650.55 253.37 650.57 C254.18 650.59 255.00 650.61 255.82 650.63 C256.64 650.65 257.46 650.67 258.28 650.70 C259.10 650.72 259.92 650.74 260.74 650.76 C261.56 650.79 262.38 650.81 263.20 650.83 C264.02 650.86 264.84 650.88 265.66 650.90 C266.47 650.93 267.29 650.95 268.11 650.98 C268.93 651.00 269.75 651.03 270.57 651.05 C271.39 651.08 272.21 651.10 273.03 651.13 C273.85 651.16 274.67 651.18 275.49 651.21 C276.31 651.24 277.13 651.27 277.95 651.29 C278.76 651.32 279.58 651.35 280.40 651.38 C281.22 651.42 282.04 651.45 282.86 651.48 C283.68 651.51 284.50 651.55 285.32 651.58 C286.14 651.62 286.96 651.66 287.78 651.70 C288.60 651.74 289.42 651.78 290.24 651.82 C291.05 651.87 291.87 651.91 292.69 651.96 C293.51 652.01 294.33 652.06 295.15 652.11 C295.97 652.17 296.79 652.23 297.61 652.29 C298.43 652.34 299.25 652.41 300.07 652.47 C300.89 652.54 301.71 652.60 302.53 652.67 C303.34 652.74 304.16 652.81 304.98 652.89 C305.80 652.96 306.62 653.03 307.44 653.11 C308.26 653.19 309.08 653.26 309.90 653.34 C310.72 653.42 311.54 653.50 312.36 653.58 C313.18 653.66 314.00 653.74 314.82 653.83 C315.63 653.91 316.45 653.99 317.27 654.07 C318.09 654.16 318.91 654.24 319.73 654.33 C320.55 654.41 321.37 654.50 322.19 654.59 C323.01 654.67 323.83 654.76 324.65 654.85 C325.47 654.94 326.29 655.04 327.11 655.13 C327.92 655.22 328.74 655.32 329.56 655.42 C330.38 655.52 331.20 655.61 332.02 655.72 C332.84 655.82 333.66 655.92 334.48 656.03 C335.30 656.14 336.12 656.25 336.94 656.36 C337.76 656.47 338.58 656.58 339.39 656.70 C340.21 656.82 341.03 656.94 341.85 657.07 C342.67 657.19 343.49 657.32 344.31 657.45 C345.13 657.59 345.95 657.72 346.77 657.86 C347.59 658.00 348.41 658.15 349.23 658.30 C350.05 658.45 350.87 658.60 351.68 658.76 C352.50 658.91 353.32 659.07 354.14 659.24 C354.96 659.40 355.78 659.57 356.60 659.74 C357.42 659.92 358.24 660.09 359.06 660.27 C359.88 660.45 360.70 660.63 361.52 660.82 C362.34 661.01 363.16 661.19 363.97 661.39 C364.79 661.58 365.61 661.78 366.43 661.97 C367.25 662.17 368.07 662.38 368.89 662.59 C369.71 662.79 370.53 663.01 371.35 663.22 C372.17 663.44 372.99 663.66 373.81 663.89 C374.63 664.11 375.45 664.34 376.26 664.58 C377.08 664.81 377.90 665.05 378.72 665.30 C379.54 665.54 380.36 665.79 381.18 666.04 C382.00 666.29 382.82 666.55 383.64 666.80 C384.46 667.06 385.28 667.32 386.10 667.58 C386.92 667.84 387.74 668.10 388.55 668.36 C389.37 668.62 390.19 668.89 391.01 669.15 C391.83 669.42 392.65 669.68 393.47 669.95 C394.29 670.21 395.11 670.48 395.93 670.74 C396.75 671.01 397.57 671.27 398.39 671.54 C399.21 671.81 400.03 672.08 400.84 672.34 C401.66 672.61 402.48 672.88 403.30 673.15 C404.12 673.43 404.94 673.70 405.76 673.97 C406.58 674.25 407.40 674.52 408.22 674.80 C409.04 675.08 409.86 675.36 410.68 675.64 C411.50 675.92 412.32 676.21 413.13 676.49 C413.95 676.78 414.77 677.07 415.59 677.36 C416.41 677.65 417.23 677.94 418.05 678.24 C418.87 678.54 419.69 678.84 420.51 679.15 C421.33 679.45 422.15 679.76 422.97 680.07 C423.79 680.38 424.61 680.70 425.42 681.02 C426.24 681.34 427.06 681.67 427.88 681.99 C428.70 682.32 429.52 682.65 430.34 682.98 C431.16 683.32 431.98 683.65 432.80 683.98 C433.62 684.32 434.44 684.66 435.26 684.99 C436.08 685.32 436.89 685.66 437.71 685.99 C438.53 686.32 439.35 686.65 440.17 686.98 C440.99 687.30 441.81 687.63 442.63 687.95 C443.45 688.27 444.27 688.58 445.09 688.89 C445.91 689.20 446.73 689.51 447.55 689.81 C448.37 690.11 449.18 690.40 450.00 690.69 C450.82 690.99 451.64 691.27 452.46 691.56 C453.28 691.84 454.10 692.12 454.92 692.40 C455.74 692.68 456.56 692.95 457.38 693.22 C458.20 693.50 459.02 693.77 459.84 694.04 C460.66 694.32 461.47 694.59 462.29 694.86 C463.11 695.13 463.93 695.41 464.75 695.69 C465.57 695.96 466.39 696.24 467.21 696.52 C468.03 696.81 468.85 697.09 469.67 697.38 C470.49 697.67 471.31 697.97 472.13 698.26 C472.95 698.56 473.76 698.86 474.58 699.17 C475.40 699.48 476.22 699.78 477.04 700.10 C477.86 700.41 479.09 700.88 479.50 701.04" stroke="#000" stroke-width="3.9" fill="none" stroke-linecap="round" stroke-linejoin="round"/>
<text x="174.2" y="723.20" text-anchor="end" class="lbl">0</text>
<text x="174.2" y="691.66" text-anchor="end" class="lbl">1</text>
<text x="174.2" y="660.11" text-anchor="end" class="lbl">2</text>
<text x="174.2" y="628.57" text-anchor="end" class="lbl">3</text>
<text x="174.2" y="597.03" text-anchor="end" class="lbl">4</text>
<text x="174.2" y="565.49" text-anchor="end" class="lbl">5</text>
<text x="174.2" y="533.94" text-anchor="end" class="lbl">6</text>
<text x="174.2" y="502.40" text-anchor="end" class="lbl">7</text>
<text x="187.00" y="741.6" text-anchor="middle" class="lbl">0</text>
<text x="213.00" y="741.6" text-anchor="middle" class="lbl">0,2</text>
<text x="239.00" y="741.6" text-anchor="middle" class="lbl">0,4</text>
<text x="265.00" y="741.6" text-anchor="middle" class="lbl">0,6</text>
<text x="291.00" y="741.6" text-anchor="middle" class="lbl">0,8</text>
<text x="317.00" y="741.6" text-anchor="middle" class="lbl">1</text>
<text x="343.00" y="741.6" text-anchor="middle" class="lbl">1,2</text>
<text x="369.00" y="741.6" text-anchor="middle" class="lbl">1,4</text>
<text x="395.00" y="741.6" text-anchor="middle" class="lbl">1,6</text>
<text x="421.00" y="741.6" text-anchor="middle" class="lbl">1,8</text>
<text x="447.00" y="741.6" text-anchor="middle" class="lbl">2</text>
<text x="473.00" y="741.6" text-anchor="middle" class="lbl">2,2</text>
<text x="499.00" y="741.6" text-anchor="middle" class="lbl">2,4</text>
<text x="525.00" y="741.6" text-anchor="middle" class="lbl">2,6</text>
<text x="551.00" y="741.6" text-anchor="middle" class="lbl">2,8</text>
<text x="577.00" y="741.6" text-anchor="middle" class="lbl">3</text>
<text x="603.00" y="741.6" text-anchor="middle" class="lbl">3,2</text>
<text x="395" y="760.9" text-anchor="middle" class="ttl">Q [m<tspan font-size="6" dy="-5">3</tspan><tspan dy="5">/h]</tspan></text>
<g transform="translate(157.6 607.9) rotate(-90)"><text x="0" y="0" text-anchor="middle" class="ttl">H [mH<tspan font-size="6" dy="2.5">2</tspan><tspan dy="-2.5">O]</tspan></text></g>
</svg>
</body></html>
